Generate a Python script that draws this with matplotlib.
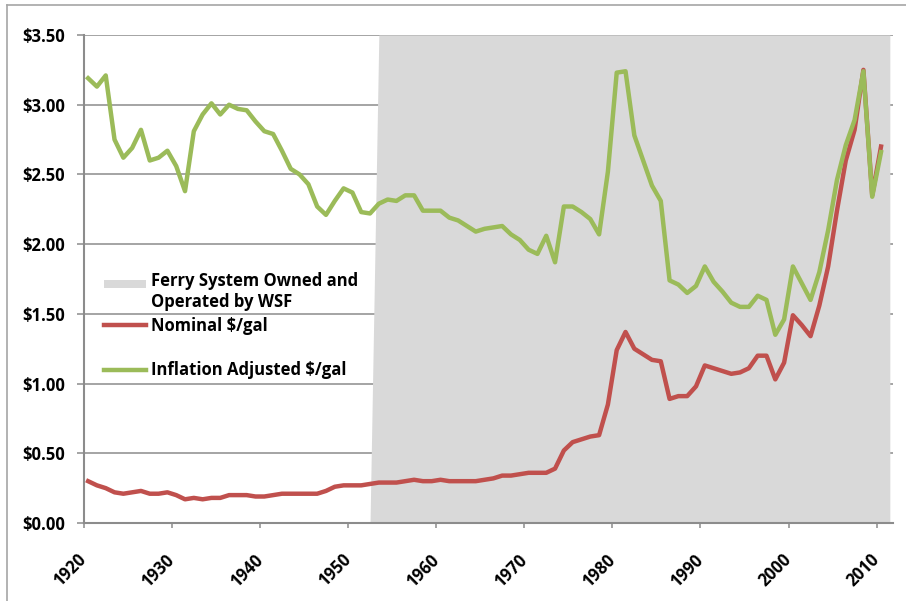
import matplotlib
matplotlib.use('Agg')
import matplotlib.pyplot as plt
import matplotlib.patches as mpatches
from matplotlib.lines import Line2D
from matplotlib.legend_handler import HandlerPatch

# Annual ferry fuel price, $/gal
years = list(range(1920, 2011))

nominal = [
    0.30, 0.27, 0.25, 0.22, 0.21, 0.22, 0.23, 0.21, 0.21, 0.22,
    0.20, 0.17, 0.18, 0.17, 0.18, 0.18, 0.20, 0.20, 0.20, 0.19,
    0.19, 0.20, 0.21, 0.21, 0.21, 0.21, 0.21, 0.23, 0.26, 0.27,
    0.27, 0.27, 0.28, 0.29, 0.29, 0.29, 0.30, 0.31, 0.30, 0.30,
    0.31, 0.30, 0.30, 0.30, 0.30, 0.31, 0.32, 0.34, 0.34, 0.35,
    0.36, 0.36, 0.36, 0.39, 0.52, 0.58, 0.60, 0.62, 0.63, 0.85,
    1.24, 1.37, 1.25, 1.21, 1.17, 1.16, 0.89, 0.91, 0.91, 0.98,
    1.13, 1.11, 1.09, 1.07, 1.08, 1.11, 1.20, 1.20, 1.03, 1.15,
    1.49, 1.42, 1.34, 1.56, 1.84, 2.24, 2.60, 2.82, 3.25, 2.35, 2.70,
]

adjusted = [
    3.19, 3.13, 3.21, 2.75, 2.62, 2.69, 2.82, 2.60, 2.62, 2.67,
    2.56, 2.38, 2.81, 2.93, 3.01, 2.93, 3.00, 2.97, 2.96, 2.88,
    2.81, 2.79, 2.67, 2.54, 2.50, 2.43, 2.27, 2.21, 2.31, 2.40,
    2.37, 2.23, 2.22, 2.29, 2.32, 2.31, 2.35, 2.35, 2.24, 2.24,
    2.24, 2.19, 2.17, 2.13, 2.09, 2.11, 2.12, 2.13, 2.07, 2.03,
    1.96, 1.93, 2.06, 1.87, 2.27, 2.27, 2.23, 2.18, 2.07, 2.52,
    3.23, 3.24, 2.78, 2.60, 2.42, 2.31, 1.74, 1.71, 1.65, 1.70,
    1.84, 1.73, 1.66, 1.58, 1.55, 1.55, 1.63, 1.60, 1.35, 1.46,
    1.84, 1.72, 1.60, 1.80, 2.10, 2.46, 2.71, 2.89, 3.24, 2.34, 2.66,
]

# WSF ownership band (area series: off in 1952, full height from 1953)
wsf_years = [1952, 1953, 2011]
wsf_level = [0.0, 3.5, 3.5]

tick_years = list(range(1920, 2011, 10))
y_ticks = [0.0, 0.5, 1.0, 1.5, 2.0, 2.5, 3.0, 3.5]

RED = '#C0504D'
GREEN = '#9BBB59'
BAND = '#D9D9D9'
GRID = '#8C8C8C'

plt.rcParams['font.family'] = ['Open Sans', 'DejaVu Sans']
plt.rcParams['font.weight'] = 'bold'

fig = plt.figure(figsize=(9.06, 6.01), dpi=100)
ax = fig.add_axes([83.7 / 906, 1 - 523 / 601, (893 - 83.7) / 906, (523 - 35) / 601])

ax.fill_between(wsf_years, wsf_level, 0, color=BAND, linewidth=0, zorder=1)
line_nom, = ax.plot(years, nominal, color=RED, linewidth=3.2,
                    solid_joinstyle='round', zorder=3)
line_adj, = ax.plot(years, adjusted, color=GREEN, linewidth=3.2,
                    solid_joinstyle='round', zorder=4)

ax.set_xlim(1919.5, 2011.36)
ax.set_ylim(0, 3.5)

ax.set_yticks(y_ticks)
ax.set_yticklabels(['${:.2f}'.format(v) for v in y_ticks])
ax.set_xticks([y - 0.5 for y in tick_years])
ax.set_xticklabels([str(y) for y in tick_years], rotation=45, ha='right',
                   va='center', rotation_mode='anchor')

ax.set_axisbelow(True)
ax.yaxis.grid(True, color=GRID, linewidth=1.1, zorder=0)
ax.xaxis.grid(False)

for side in ['top', 'right']:
    ax.spines[side].set_visible(False)
for side in ['left', 'bottom']:
    ax.spines[side].set_color(GRID)
    ax.spines[side].set_linewidth(1.5)

ax.tick_params(axis='y', length=5, width=1.1, color=GRID, pad=8.4, labelsize=12)
ax.tick_params(axis='x', length=3.6, width=1.1, color=GRID, pad=21, labelsize=12)


def band_handle(legend, orig_handle, xdescent, ydescent, width, height, fontsize):
    # Excel puts the swatch next to the first line of the label
    return mpatches.Rectangle((-xdescent, -ydescent + height * 0.92),
                              width, height * 0.69)


band_proxy = mpatches.Patch(facecolor=BAND, edgecolor='none')

leg_kw = dict(frameon=False, fontsize=12, handlelength=2.5, handletextpad=0.3,
              borderpad=0, borderaxespad=0)
leg1 = ax.legend([band_proxy], ['Ferry System Owned and\nOperated by WSF'],
                 loc='center left', bbox_to_anchor=(0.025, 0.474),
                 handler_map={mpatches.Patch: HandlerPatch(patch_func=band_handle)},
                 **leg_kw)
ax.add_artist(leg1)
ax.legend([line_nom, line_adj], ['Nominal $/gal', 'Inflation Adjusted $/gal'],
          loc='center left', bbox_to_anchor=(0.025, 0.3586),
          labelspacing=1.6, **leg_kw)

# Border left over from the cropped slide
fig.add_artist(Line2D([7 / 906, 7 / 906], [0, 1 - 5 / 601], color='#A6A6A6', linewidth=1.2))
fig.add_artist(Line2D([7 / 906, 1], [1 - 5 / 601, 1 - 5 / 601], color='#A6A6A6', linewidth=1.2))

plt.savefig('out.png', dpi=100)
plt.close(fig)
